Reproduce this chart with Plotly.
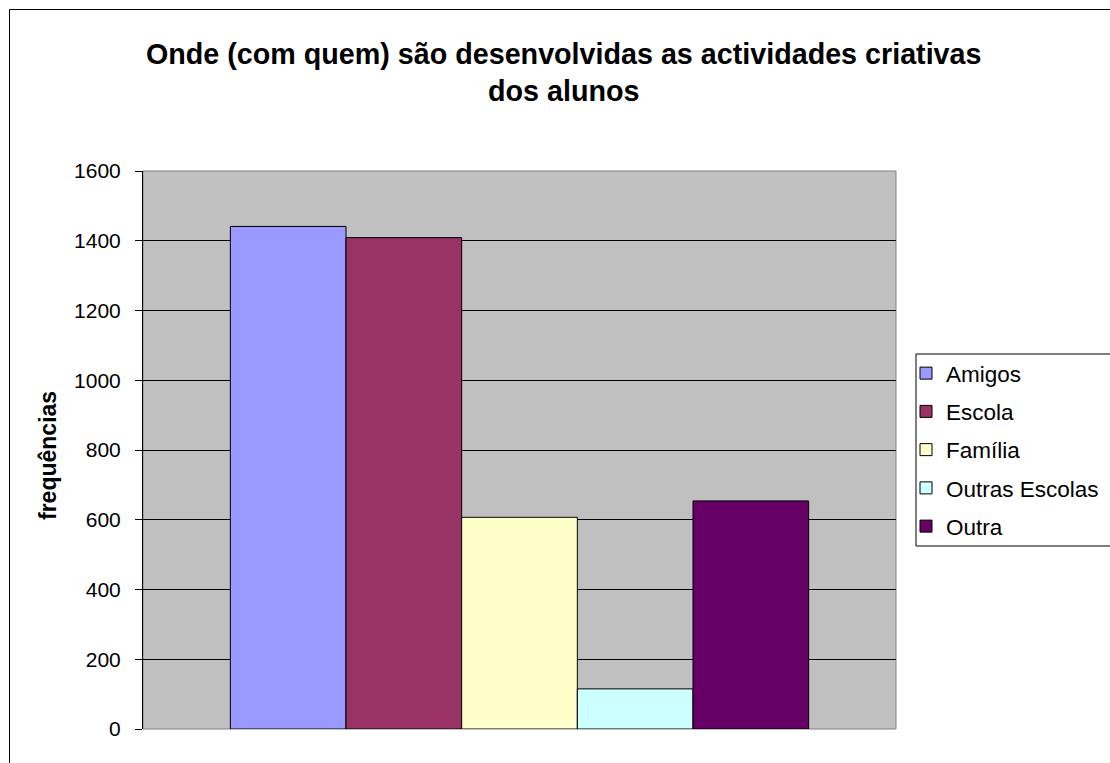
import plotly.graph_objects as go

# Frequências por contexto de desenvolvimento das actividades criativas
series_names = ["Amigos", "Escola", "Família", "Outras Escolas", "Outra"]
series_values = [1441, 1409, 607, 115, 654]
series_colors = ["#9999FF", "#993366", "#FFFFCC", "#CCFFFF", "#660066"]
y_ticks = [0, 200, 400, 600, 800, 1000, 1200, 1400, 1600]

title_text = "Onde (com quem) são desenvolvidas as actividades criativas<br>dos alunos"
y_title = "frequências"

FONT = "Liberation Sans, Arial, sans-serif"
W, H = 1110, 763
ML, MR, MT, MB = 143, 214, 171, 34
PW, PH = W - ML - MR, H - MT - MB


def px_x(px):
    return (px - ML) / PW


def px_y(py):
    return (H - MB - py) / PH


fig = go.Figure()
for name, val, col in zip(series_names, series_values, series_colors):
    fig.add_trace(go.Bar(
        x=["grupo"], y=[val], name=name, legendgroup=name,
        marker=dict(color=col, line=dict(color="#000000", width=1)),
    ))

fig.update_layout(
    width=W, height=H,
    margin=dict(l=ML, r=MR, t=MT, b=MB, autoexpand=False),
    paper_bgcolor="#FFFFFF",
    plot_bgcolor="#C0C0C0",
    barmode="group", bargap=0.232, bargroupgap=0,
    font=dict(family=FONT, color="#000000"),
    showlegend=True,
    legend=dict(
        x=px_x(906), y=px_y(352), xanchor="left", yanchor="top",
        font=dict(family=FONT, size=22.5, color="#000000"),
        bgcolor="rgba(0,0,0,0)", borderwidth=0,
        traceorder="grouped", tracegroupgap=6,
    ),
    xaxis=dict(
        showticklabels=False, ticks="", showgrid=False, zeroline=False,
        showline=False, fixedrange=True,
    ),
    yaxis=dict(
        range=[0, 1600], tickvals=y_ticks, ticktext=[str(v) for v in y_ticks],
        ticks="outside", ticklen=7, tickcolor="#000000", tickwidth=1,
        ticklabelstandoff=10,
        tickfont=dict(family=FONT, size=21, color="#000000"),
        showgrid=True, gridcolor="#000000", gridwidth=1,
        zeroline=False, showline=True, linecolor="#000000", linewidth=1,
    ),
)

shapes = [
    # plot area border (right / bottom / top)
    dict(type="rect", xref="paper", yref="paper", x0=0, x1=1, y0=0, y1=1,
         line=dict(color="#808080", width=1), layer="below"),
    # outer chart frame
    dict(type="rect", xref="paper", yref="paper",
         x0=px_x(9.5), x1=px_x(1130), y0=px_y(9.5), y1=px_y(780),
         line=dict(color="#000000", width=1)),
    # legend frame
    dict(type="rect", xref="paper", yref="paper",
         x0=px_x(916), x1=px_x(1130), y0=px_y(354), y1=px_y(546),
         line=dict(color="#000000", width=1)),
]
fig.update_layout(shapes=shapes)

fig.add_annotation(
    text=title_text, xref="paper", yref="paper",
    x=px_x(563), y=px_y(36), xanchor="center", yanchor="top",
    showarrow=False, align="center",
    font=dict(family=FONT, size=28.7, color="#000000", weight="bold"),
)
fig.add_annotation(
    text=y_title, xref="paper", yref="paper",
    x=px_x(48), y=px_y(456), xanchor="center", yanchor="middle",
    textangle=-90, showarrow=False,
    font=dict(family=FONT, size=23, color="#000000", weight="bold"),
)

fig.write_html("out.html")
